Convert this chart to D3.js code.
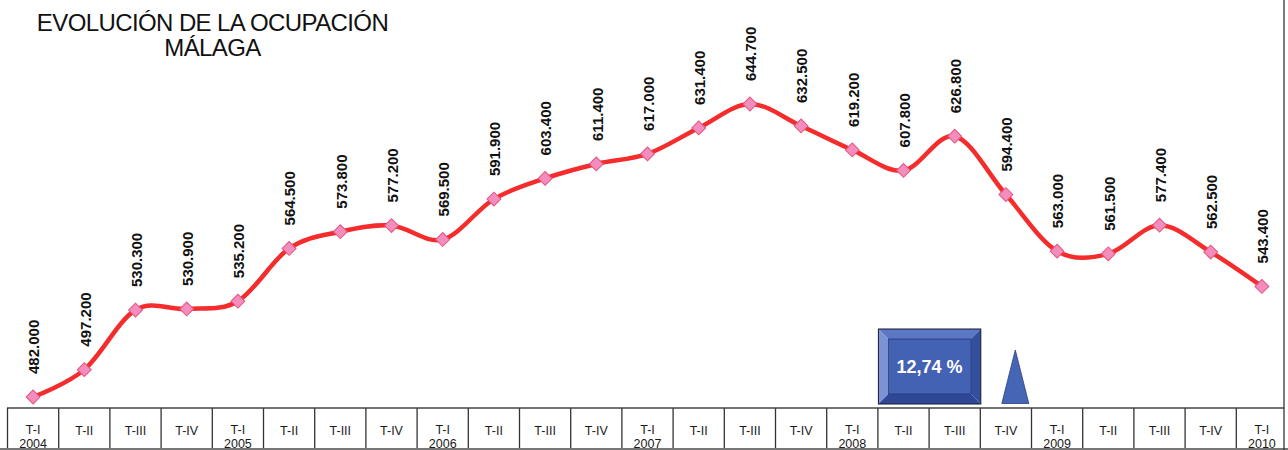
<!DOCTYPE html>
<html>
<head>
<meta charset="utf-8">
<script src="https://cdn.jsdelivr.net/npm/d3@7"></script>
<style>
  html, body { margin: 0; padding: 0; background: #fff; }
  svg { display: block; font-family: "Liberation Sans", Arial, sans-serif; }
</style>
</head>
<body>
<div id="chart"></div>
<script>
// Ocupación Málaga, por trimestre
const quarters = ["T-I", "T-II", "T-III", "T-IV", "T-I", "T-II", "T-III", "T-IV", "T-I", "T-II", "T-III", "T-IV",
  "T-I", "T-II", "T-III", "T-IV", "T-I", "T-II", "T-III", "T-IV", "T-I", "T-II", "T-III", "T-IV", "T-I"];
const years = ["2004", "", "", "", "2005", "", "", "", "2006", "", "", "", "2007", "", "", "", "2008", "", "", "", "2009", "", "", "", "2010"];
const ocupados = [482000, 497200, 530300, 530900, 535200, 564500, 573800, 577200, 569500, 591900, 603400, 611400,
  617000, 631400, 644700, 632500, 619200, 607800, 626800, 594400, 563000, 561500, 577400, 562500, 543400];
const variacion = "12,74 %";

const W = 1288, H = 450;
const svg = d3.select("#chart").append("svg").attr("width", W).attr("height", H);

const idx = d3.range(ocupados.length);
const x = d3.scaleBand().domain(idx).range([7.5, 7.5 + 25 * 51.2]).padding(0);
const y = d3.scaleLinear().domain([482000, 644700]).range([397, 104]);
const cx = i => x(i) + x.bandwidth() / 2;

const es = d3.formatLocale({ decimal: ",", thousands: ".", grouping: [3], currency: ["", "€"] });
const fmt = es.format(",d");

// title
const title = svg.append("text").attr("text-anchor", "middle")
  .attr("font-size", 24).attr("letter-spacing", -0.6).attr("fill", "#111");
title.append("tspan").attr("x", 212.5).attr("y", 30.5).text("EVOLUCIÓN DE LA OCUPACIÓN");
title.append("tspan").attr("x", 212.5).attr("y", 55.5).text("MÁLAGA");

// category table
const tTop = 408, tBot = 448.5;
const tbl = svg.append("g");
tbl.selectAll("line.v").data(idx).join("line")
  .attr("x1", i => x(i)).attr("x2", i => x(i))
  .attr("y1", tTop).attr("y2", tBot)
  .attr("stroke", "#333").attr("stroke-width", 1.3);
tbl.append("line").attr("x1", 7).attr("x2", 1284).attr("y1", tTop).attr("y2", tTop)
  .attr("stroke", "#444").attr("stroke-width", 1.6);
tbl.append("line").attr("x1", 0).attr("x2", W).attr("y1", tBot + 0.5).attr("y2", tBot + 0.5)
  .attr("stroke", "#777").attr("stroke-width", 2);
svg.append("line").attr("x1", 1284).attr("x2", 1284).attr("y1", 0).attr("y2", H)
  .attr("stroke", "#333").attr("stroke-width", 1.3);

tbl.selectAll("text.q").data(idx).join("text").attr("class", "q")
  .attr("x", cx).attr("y", i => years[i] ? 433.5 : 435)
  .attr("text-anchor", "middle").attr("font-size", 12.5).attr("fill", "#1a1a1a")
  .text(i => quarters[i]);
tbl.selectAll("text.yr").data(idx.filter(i => years[i])).join("text").attr("class", "yr")
  .attr("x", cx).attr("y", 447.5)
  .attr("text-anchor", "middle").attr("font-size", 12.5).attr("fill", "#1a1a1a")
  .text(i => years[i]);

// line
const line = d3.line().x(cx).y(i => y(ocupados[i])).curve(d3.curveCardinal.tension(0));
svg.append("path").datum(idx).attr("d", line)
  .attr("fill", "none").attr("stroke", "#F42C2C").attr("stroke-width", 4.5)
  .attr("stroke-linejoin", "round");

svg.append("g").selectAll("path").data(idx).join("path")
  .attr("d", d3.symbol(d3.symbolSquare, 96))
  .attr("transform", i => `translate(${cx(i)},${y(ocupados[i])}) rotate(45)`)
  .attr("fill", "#F28DBE").attr("stroke", "#E4547E").attr("stroke-width", 1);

// value labels
svg.append("g").selectAll("text").data(idx).join("text")
  .attr("transform", i => `translate(${cx(i) + 1},${y(ocupados[i]) - 23}) rotate(-90)`)
  .attr("dy", "0.35em").attr("font-size", 15).attr("font-weight", "bold").attr("fill", "#111")
  .text(i => fmt(ocupados[i]));

// variation box (spans T-II and T-III 2008)
const bx0 = x(17) + 0.5, bx1 = x(19) + 0.5, by0 = 329, by1 = 404, bv = 10;
const box = svg.append("g");
const poly = (pts, fill) => box.append("polygon").attr("points", pts.map(p => p.join(",")).join(" ")).attr("fill", fill);
poly([[bx0, by0], [bx1, by0], [bx1 - bv, by0 + bv], [bx0 + bv, by0 + bv]], "#5C77C4");
poly([[bx0, by0], [bx0 + bv, by0 + bv], [bx0 + bv, by1 - bv], [bx0, by1]], "#7B92D4");
poly([[bx0, by1], [bx0 + bv, by1 - bv], [bx1 - bv, by1 - bv], [bx1, by1]], "#2E4896");
poly([[bx1, by0], [bx1, by1], [bx1 - bv, by1 - bv], [bx1 - bv, by0 + bv]], "#33509F");
box.append("rect").attr("x", bx0 + bv).attr("y", by0 + bv).attr("width", bx1 - bx0 - 2 * bv).attr("height", by1 - by0 - 2 * bv)
  .attr("fill", "#4462B4").attr("stroke", "#26397a").attr("stroke-width", 0.8);
box.append("rect").attr("x", bx0).attr("y", by0).attr("width", bx1 - bx0).attr("height", by1 - by0)
  .attr("fill", "none").attr("stroke", "#1a1a2a").attr("stroke-width", 1);
box.append("text").attr("x", (bx0 + bx1) / 2).attr("y", 373)
  .attr("text-anchor", "middle").attr("font-size", 18).attr("font-weight", "bold").attr("fill", "#fff")
  .text(variacion);

// up triangle
const tx = x(19) + 35;
svg.append("polygon")
  .attr("points", `${tx},350 ${tx + 13.5},403.5 ${tx - 13.5},403.5`)
  .attr("fill", "#4565B5").attr("stroke", "#2c3f80").attr("stroke-width", 0.8);
</script>
</body>
</html>
